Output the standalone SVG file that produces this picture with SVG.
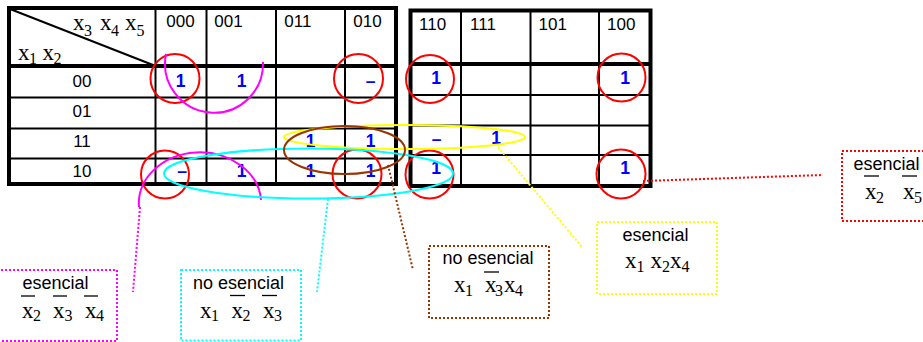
<svg xmlns="http://www.w3.org/2000/svg" width="923" height="342" viewBox="0 0 923 342">
<style>
.thick{stroke:#000;stroke-width:4;fill:none}
.thin{stroke:#000;stroke-width:2;fill:none}
.hdr{font-family:"Liberation Sans",Arial,sans-serif;font-size:17px;fill:#000}
.rl{font-family:"Liberation Sans",Arial,sans-serif;font-size:17px;fill:#000;text-anchor:middle}
.val{font-family:"Liberation Sans",Arial,sans-serif;font-size:17.5px;font-weight:bold;fill:#0000FF;text-anchor:middle}
.sans{font-family:"Liberation Sans",Arial,sans-serif;font-size:18px;fill:#000}
.ser{font-family:"Liberation Serif","Times New Roman",serif;font-size:23px;fill:#000}
.sub{font-size:16px}
.ov{stroke:#000;stroke-width:1.3}
.loop{fill:none;stroke-width:2}
.rc{fill:none;stroke:#FF0000;stroke-width:2}
.dot{fill:none;stroke-width:2;stroke-dasharray:2 2}
</style>
<rect width="923" height="342" fill="#fff"/>

<g id="map-left">
  <line x1="10" y1="9" x2="153" y2="65" class="thin"/>
  <line x1="9" y1="97.5" x2="396" y2="97.5" class="thin"/>
  <line x1="9" y1="128.5" x2="396" y2="128.5" class="thin"/>
  <line x1="9" y1="158.5" x2="396" y2="158.5" class="thin"/>
  <line x1="155.5" y1="8" x2="155.5" y2="184" class="thin"/>
  <line x1="206.5" y1="8" x2="206.5" y2="184" class="thin"/>
  <line x1="276" y1="8" x2="276" y2="184" class="thin"/>
  <line x1="345" y1="8" x2="345" y2="184" class="thin"/>
  <line x1="9" y1="66" x2="396" y2="66" class="thick"/>
  <rect x="9" y="8" width="387" height="176" class="thick"/>
  <text class="ser" y="30"><tspan x="73">x</tspan><tspan x="84" y="36" class="sub">3 </tspan><tspan x="100" y="30">x</tspan><tspan x="111" y="36" class="sub">4 </tspan><tspan x="125" y="30">x</tspan><tspan x="136.5" y="36" class="sub">5</tspan></text>
  <text class="ser" y="60"><tspan x="18">x</tspan><tspan x="29" y="64" class="sub">1 </tspan><tspan x="42.5" y="60">x</tspan><tspan x="53.5" y="64" class="sub">2</tspan></text>
  <text class="hdr" x="166.3" y="27">000</text>
  <text class="hdr" x="214.3" y="27">001</text>
  <text class="hdr" x="284.3" y="27">011</text>
  <text class="hdr" x="353.3" y="27">010</text>
  <text class="rl" x="82" y="87">00</text>
  <text class="rl" x="82" y="117">01</text>
  <text class="rl" x="82" y="147">11</text>
  <text class="rl" x="82" y="177">10</text>
  <text class="val" x="180.5" y="87">1</text>
  <text class="val" x="241.5" y="87">1</text>
  <text class="val" x="370.5" y="87">–</text>
  <text class="val" x="310.5" y="147">1</text>
  <text class="val" x="370.5" y="147">1</text>
  <text class="val" x="182" y="177">–</text>
  <text class="val" x="241.5" y="176.5">1</text>
  <text class="val" x="310.5" y="177">1</text>
  <text class="val" x="370.5" y="177">1</text>
</g>

<g id="map-right">
  <line x1="410.5" y1="95" x2="650.5" y2="95" class="thin"/>
  <line x1="410.5" y1="125.5" x2="650.5" y2="125.5" class="thin"/>
  <line x1="410.5" y1="155" x2="650.5" y2="155" class="thin"/>
  <line x1="461" y1="10.5" x2="461" y2="186" class="thin"/>
  <line x1="530.5" y1="10.5" x2="530.5" y2="186" class="thin"/>
  <line x1="599" y1="10.5" x2="599" y2="186" class="thin"/>
  <line x1="410.5" y1="64" x2="650.5" y2="64" class="thick"/>
  <rect x="410.5" y="10.5" width="240" height="175.5" class="thick"/>
  <text class="hdr" x="419" y="30">110</text>
  <text class="hdr" x="470" y="30">111</text>
  <text class="hdr" x="538.5" y="30">101</text>
  <text class="hdr" x="607" y="30">100</text>
  <text class="val" x="436" y="84">1</text>
  <text class="val" x="625" y="84">1</text>
  <text class="val" x="436.5" y="145">–</text>
  <text class="val" x="496" y="144">1</text>
  <text class="val" x="436" y="174">1</text>
  <text class="val" x="625" y="174">1</text>
</g>

<g id="loops">
  <circle cx="175" cy="78.5" r="24.5" class="rc"/>
  <circle cx="358.5" cy="78.5" r="24.5" class="rc"/>
  <circle cx="430" cy="79" r="24" class="rc"/>
  <circle cx="621.5" cy="77.5" r="24" class="rc"/>
  <circle cx="165" cy="174.5" r="24" class="rc"/>
  <circle cx="357" cy="174" r="24.5" class="rc"/>
  <circle cx="429.5" cy="174.5" r="24" class="rc"/>
  <circle cx="621" cy="174" r="24.5" class="rc"/>
  <path d="M166 54 A49 49 0 1 0 263 62" class="loop" stroke="#FF00FF"/>
  <path d="M139 207 A61 51 0 1 1 261 200" class="loop" stroke="#FF00FF"/>
  <ellipse cx="404.5" cy="137" rx="120.5" ry="12" class="loop" stroke="#FFFF00"/>
  <ellipse cx="308.5" cy="173.5" rx="144.5" ry="25" class="loop" stroke="#00FFFF"/>
  <ellipse cx="344.5" cy="150" rx="60.5" ry="24" class="loop" stroke="#993300"/>
</g>

<g id="connectors">
  <line x1="140" y1="207" x2="133" y2="292" class="dot" stroke="#FF00FF"/>
  <line x1="328" y1="199" x2="317" y2="292" class="dot" stroke="#00FFFF"/>
  <line x1="388" y1="165" x2="413" y2="270" class="dot" stroke="#993300"/>
  <line x1="498" y1="147" x2="582" y2="247" class="dot" stroke="#FFFF00"/>
  <line x1="643" y1="181" x2="823" y2="175" class="dot" stroke="#FF0000"/>
</g>

<g id="label-magenta">
  <rect x="-3" y="270" width="120" height="71" class="dot" stroke="#FF00FF"/>
  <text class="sans" x="22.5" y="289">esencial</text>
  <line x1="21" y1="296" x2="35" y2="296" class="ov"/>
  <line x1="53" y1="296" x2="67" y2="296" class="ov"/>
  <line x1="84" y1="296" x2="98" y2="296" class="ov"/>
  <text class="ser" y="318"><tspan x="22">x</tspan><tspan x="33" y="321" class="sub">2 </tspan><tspan x="53" y="318">x</tspan><tspan x="64.5" y="321" class="sub">3 </tspan><tspan x="85" y="318">x</tspan><tspan x="96" y="321" class="sub">4</tspan></text>
</g>

<g id="label-cyan">
  <rect x="181" y="270" width="120" height="70.5" class="dot" stroke="#00FFFF"/>
  <text class="sans" x="193" y="289">no esencial</text>
  <line x1="230" y1="295.5" x2="245" y2="295.5" class="ov"/>
  <line x1="262" y1="295.5" x2="277" y2="295.5" class="ov"/>
  <text class="ser" y="318"><tspan x="200">x</tspan><tspan x="211" y="321" class="sub">1 </tspan><tspan x="231.5" y="318">x</tspan><tspan x="242.5" y="321" class="sub">2 </tspan><tspan x="263" y="318">x</tspan><tspan x="274" y="321" class="sub">3</tspan></text>
</g>

<g id="label-brown">
  <rect x="429" y="246" width="120" height="72" class="dot" stroke="#993300"/>
  <text class="sans" x="442.5" y="264">no esencial</text>
  <line x1="484" y1="272" x2="499" y2="272" class="ov"/>
  <text class="ser" y="292"><tspan x="454">x</tspan><tspan x="465" y="296" class="sub">1 </tspan><tspan x="485" y="292">x</tspan><tspan x="495" y="296" class="sub">3</tspan><tspan x="504" y="292">x</tspan><tspan x="515" y="296" class="sub">4</tspan></text>
</g>

<g id="label-yellow">
  <rect x="597" y="222" width="120" height="72" class="dot" stroke="#FFFF00"/>
  <text class="sans" x="622.5" y="240.5">esencial</text>
  <text class="ser" y="268"><tspan x="625">x</tspan><tspan x="636.5" y="271.5" class="sub">1 </tspan><tspan x="650.5" y="268">x</tspan><tspan x="662" y="271.5" class="sub">2</tspan><tspan x="670" y="268">x</tspan><tspan x="681.5" y="271.5" class="sub">4</tspan></text>
</g>

<g id="label-red">
  <rect x="842" y="151" width="120" height="70" class="dot" stroke="#FF0000"/>
  <text class="sans" x="853.5" y="170">esencial</text>
  <line x1="864" y1="176" x2="879" y2="176" class="ov"/>
  <line x1="902" y1="176" x2="917" y2="176" class="ov"/>
  <text class="ser" y="199"><tspan x="865">x</tspan><tspan x="876" y="202.5" class="sub">2 </tspan><tspan x="903" y="199">x</tspan><tspan x="914" y="202.5" class="sub">5</tspan></text>
</g>
</svg>
